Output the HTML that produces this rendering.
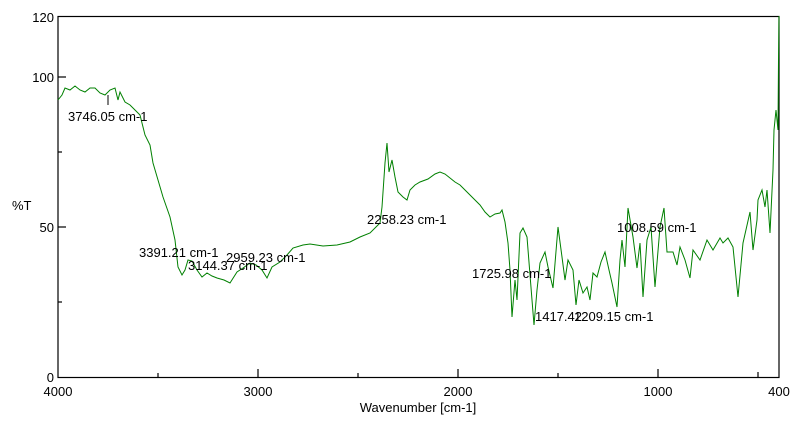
<!DOCTYPE html>
<html><head><style>
body{margin:0;background:#fff;}
svg text{font-family:"Liberation Sans",sans-serif;font-size:13px;fill:#000;}
</style></head><body>
<svg width="796" height="418" xmlns="http://www.w3.org/2000/svg">
<rect x="58" y="16.5" width="721" height="361" fill="none" stroke="#000" stroke-width="1.2"/>
<g stroke="#000" stroke-width="1.2">
<line x1="58" y1="77" x2="66" y2="77"/><line x1="58" y1="227" x2="66" y2="227"/>
<line x1="58" y1="152" x2="62" y2="152"/><line x1="58" y1="302" x2="62" y2="302"/>
<line x1="258" y1="377" x2="258" y2="369"/><line x1="458" y1="377" x2="458" y2="369"/>
<line x1="658" y1="377" x2="658" y2="369"/><line x1="758" y1="377" x2="758" y2="372"/>
<line x1="158" y1="377" x2="158" y2="373"/><line x1="358" y1="377" x2="358" y2="373"/><line x1="558" y1="377" x2="558" y2="373"/>
</g>
<g text-anchor="end"><text x="54" y="22">120</text><text x="54" y="82">100</text><text x="54" y="232">50</text><text x="54" y="382">0</text></g>
<text x="12" y="210">%T</text>
<g text-anchor="middle"><text x="58" y="396">4000</text><text x="258" y="396">3000</text><text x="458" y="396">2000</text><text x="658" y="396">1000</text><text x="779" y="396">400</text>
<text x="418" y="412">Wavenumber [cm-1]</text></g>
<polyline fill="none" stroke="#008000" stroke-width="1" points="58,100 62,95 65,88 70,90 75,86 80,90 85,92 90,88 95,88 100,93 105,95 110,90 115,88 118,100 120,92 125,102 130,105 135,110 140,115 145,135 150,145 153,163 158,180 163,197 170,217 175,240 178,267 182,275 185,270 188,260 192,261 197,270 202,277 207,273 212,276 217,278 224,280 230,283 237,272 243,268 250,263 256,265 262,270 267,278 272,267 280,262 287,255 293,248 303,245 310,244 323,246 337,245 350,242 360,237 370,233 380,223 382,207 385,163 387,143 389,172 392,160 395,177 398,192 403,197 407,200 410,190 415,185 420,182 428,179 435,174 440,172 445,174 450,178 455,182 460,185 465,190 470,195 475,200 480,205 485,212 490,217 495,214 500,213 502,210 505,222 508,243 510,270 512,317 515,280 517,300 520,233 523,228 527,237 532,300 534,325 537,290 540,263 545,252 548,267 553,288 558,227 562,257 565,280 568,260 573,270 576,305 579,280 583,293 587,287 590,300 593,273 597,277 601,262 605,252 609,270 612,283 617,307 620,260 622,240 625,267 628,208 633,237 637,268 640,243 643,297 647,240 651,227 655,287 660,227 664,208 667,252 673,252 677,265 680,247 685,260 690,278 693,250 700,260 707,240 713,250 720,238 723,243 728,238 733,247 738,297 743,243 750,212 753,250 757,220 758,200 762,190 765,207 767,190 770,233 773,170 774,130 776,110 777,120 778,130 778.5,60 779,16"/>
<g stroke="#000" stroke-width="1">
<line x1="108" y1="95" x2="108" y2="105"/>
</g>
<text x="68" y="121">3746.05 cm-1</text>
<text x="139" y="257">3391.21 cm-1</text>
<text x="188" y="270">3144.37 cm-1</text>
<text x="226" y="262">2959.23 cm-1</text>
<text x="367" y="224">2258.23 cm-1</text>
<text x="472" y="278">1725.98 cm-1</text>
<text x="535" y="321">1417.42</text>
<text x="574" y="321">1209.15 cm-1</text>
<text x="617" y="232">1008.59 cm-1</text>
</svg>
</body></html>
